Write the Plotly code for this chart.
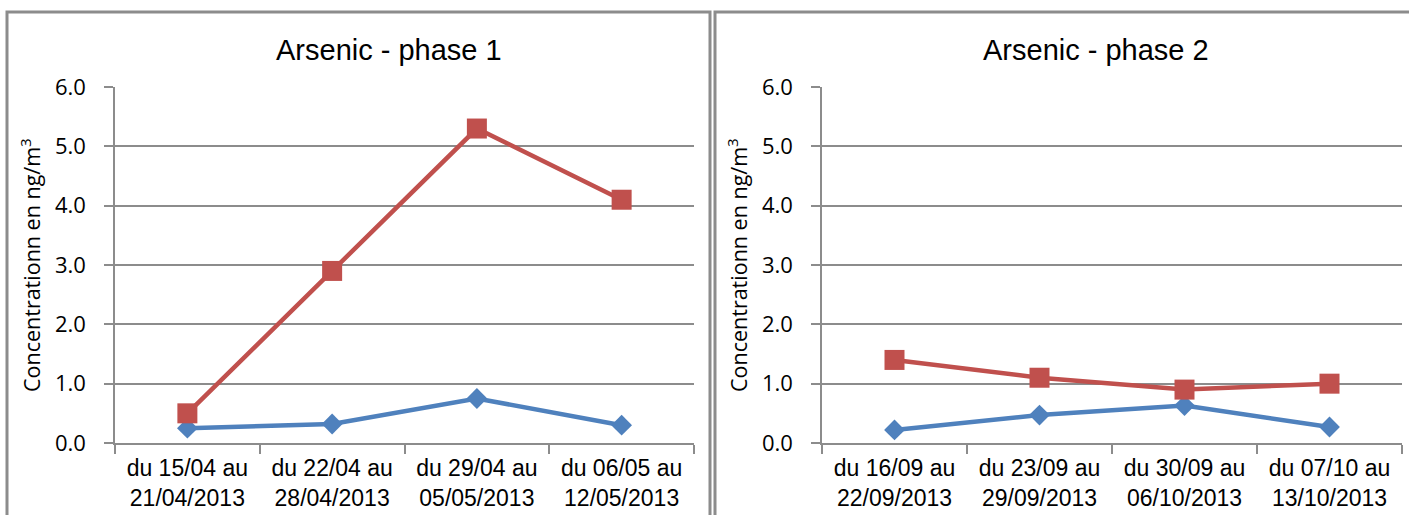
import plotly.graph_objects as go

W, H = 1409, 515

cats1 = ["du 15/04 au<br>21/04/2013", "du 22/04 au<br>28/04/2013",
         "du 29/04 au<br>05/05/2013", "du 06/05 au<br>12/05/2013"]
cats2 = ["du 16/09 au<br>22/09/2013", "du 23/09 au<br>29/09/2013",
         "du 30/09 au<br>06/10/2013", "du 07/10 au<br>13/10/2013"]
blue1 = [0.25, 0.32, 0.75, 0.30]
red1 = [0.50, 2.90, 5.30, 4.10]
blue2 = [0.22, 0.47, 0.63, 0.27]
red2 = [1.40, 1.10, 0.90, 1.00]
titles = ["Arsenic - phase 1", "Arsenic - phase 2"]
ytitle = "Concentrationn en ng/m<sup>3</sup>"
yticks = [0, 1, 2, 3, 4, 5, 6]

BLUE = "#4F81BD"
RED = "#C0504D"
GRID = "#8c8c8c"

def px(x):
    return x / W

def py(y):
    return 1 - y / H

fig = go.Figure()

for i, (cats, b, r) in enumerate([(cats1, blue1, red1), (cats2, blue2, red2)]):
    xa = "x" if i == 0 else "x2"
    ya = "y" if i == 0 else "y2"
    fig.add_trace(go.Scatter(x=cats, y=b, xaxis=xa, yaxis=ya, mode="lines+markers",
                             line=dict(color=BLUE, width=4.5),
                             marker=dict(symbol="diamond", size=16, color=BLUE),
                             showlegend=False, cliponaxis=False))
    fig.add_trace(go.Scatter(x=cats, y=r, xaxis=xa, yaxis=ya, mode="lines+markers",
                             line=dict(color=RED, width=4.5),
                             marker=dict(symbol="square", size=20, color=RED),
                             showlegend=False, cliponaxis=False))

xdoms = [[px(115), px(694)], [px(822), px(1402)]]
ydom = [py(443), py(87)]

common_x = dict(type="category", range=[-0.5, 3.5], showgrid=False, zeroline=False,
                showline=True, linecolor=GRID, linewidth=1.5, automargin=False,
                ticks="outside", tickson="boundaries", ticklen=9, tickcolor=GRID,
                tickwidth=1.5, ticklabelstandoff=4,
                tickfont=dict(family="Liberation Sans, Arial", size=23, color="#000"))
common_y = dict(range=[0, 6], tickvals=yticks, tickformat=".1f", showgrid=True,
                gridcolor=GRID, gridwidth=1.5, zeroline=False, automargin=False,
                showline=True, linecolor=GRID, linewidth=1.5,
                ticks="outside", ticklen=9, tickcolor=GRID, tickwidth=1.5,
                ticklabelstandoff=14,
                tickfont=dict(family="Open Sans, Noto Sans", size=22, color="#000"))

fig.update_layout(
    width=W, height=H, autosize=False,
    margin=dict(l=0, r=0, t=0, b=0, pad=0, autoexpand=False),
    paper_bgcolor="white", plot_bgcolor="white",
    xaxis=dict(domain=xdoms[0], anchor="y", **common_x),
    yaxis=dict(domain=ydom, anchor="x", **common_y),
    xaxis2=dict(domain=xdoms[1], anchor="y2", **common_x),
    yaxis2=dict(domain=ydom, anchor="x2", **common_y),
)

# Titles and y-axis titles
for cx, yx, t in [(389, 30, titles[0]), (1096, 737, titles[1])]:
    fig.add_annotation(x=px(cx), y=py(50), xref="paper", yref="paper",
                       text=t, showarrow=False, xanchor="center", yanchor="middle",
                       font=dict(family="Liberation Sans, Arial", size=29, color="#000"))
    fig.add_annotation(x=px(yx), y=py(265), xref="paper", yref="paper",
                       text=ytitle, showarrow=False, textangle=-90,
                       xanchor="center", yanchor="middle",
                       font=dict(family="Open Sans, Noto Sans", size=21.5, color="#000"))

# Panel borders
for x0, x1 in [(7, 710), (715, 1420)]:
    fig.add_shape(type="rect", xref="paper", yref="paper",
                  x0=px(x0), x1=px(x1), y0=py(530), y1=py(12),
                  line=dict(color="#8c8c8c", width=3), fillcolor="rgba(0,0,0,0)")

fig.write_html("out.html", config={"displayModeBar": False},
               post_script="document.body.style.margin='0';document.body.style.overflow='hidden';")
